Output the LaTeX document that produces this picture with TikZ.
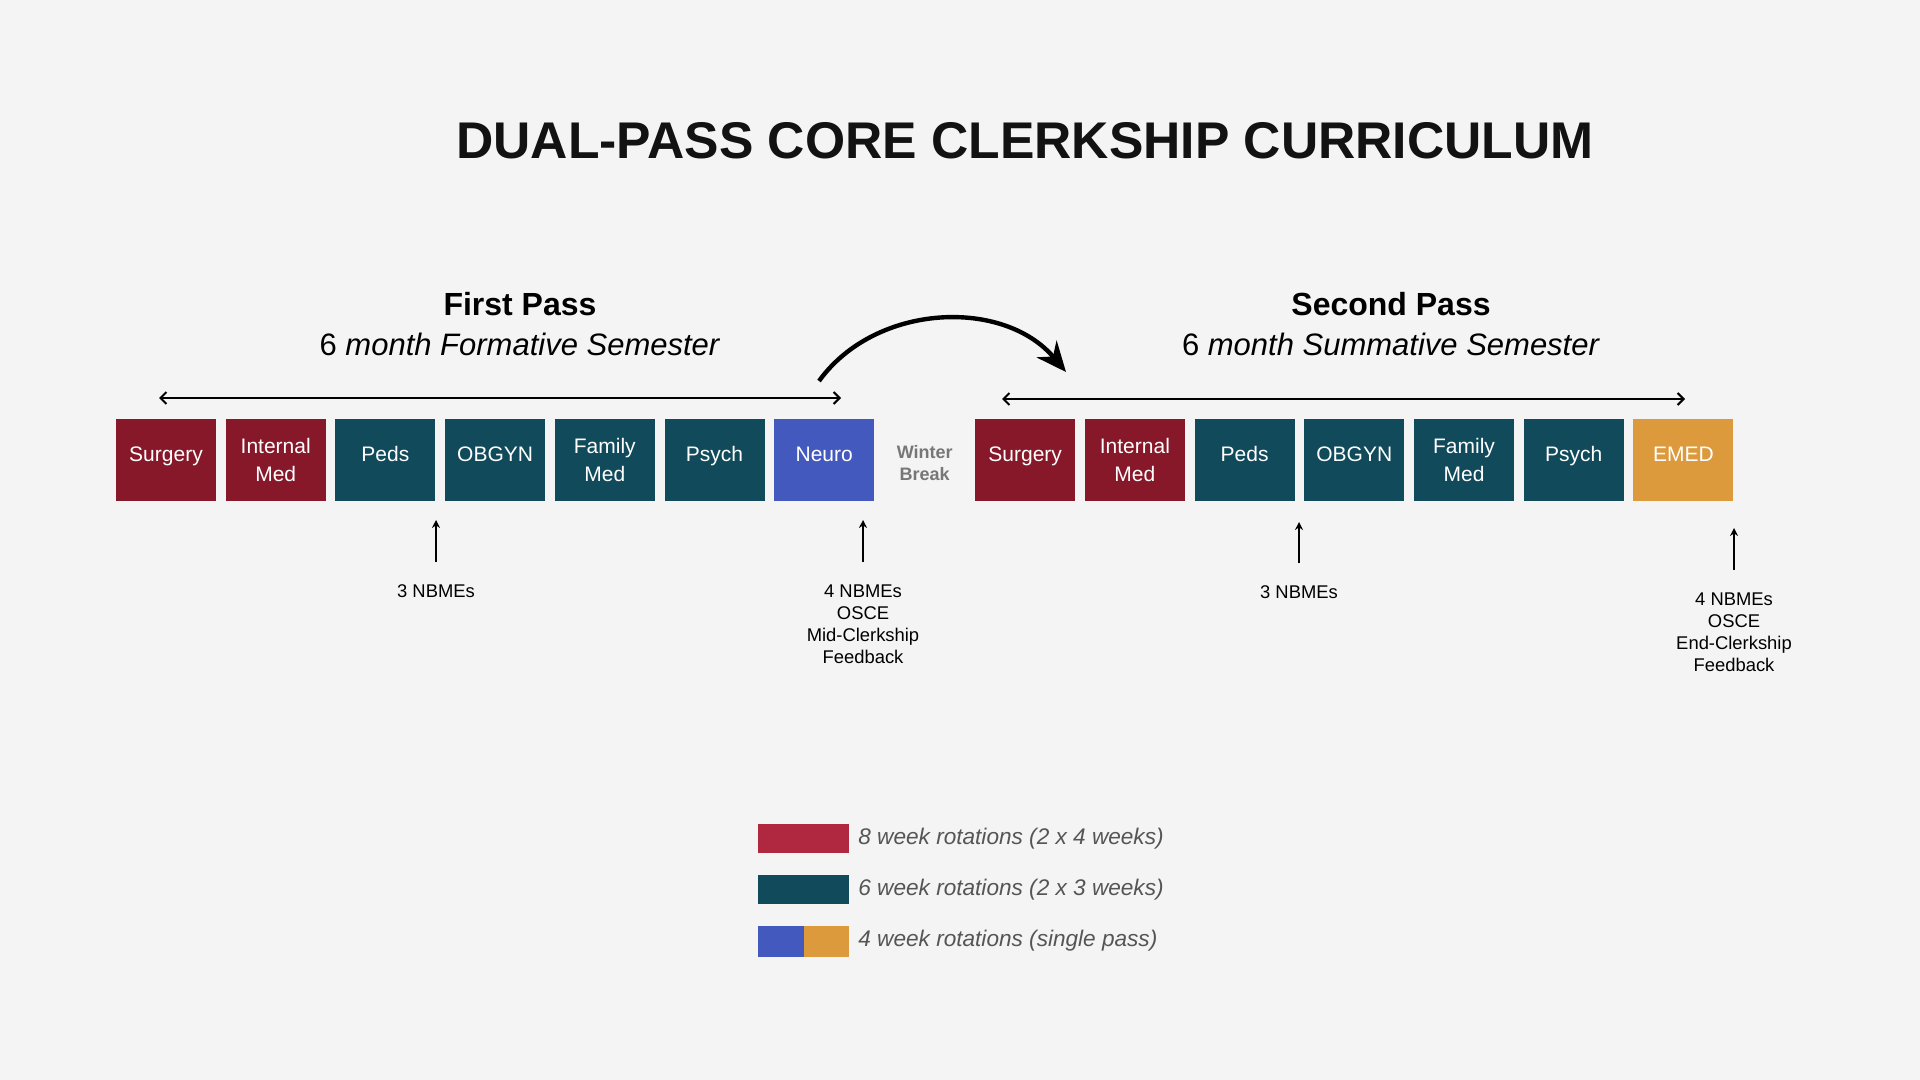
\documentclass[tikz,border=0pt]{standalone}
\usepackage{fontspec}
\setmainfont{Liberation Sans}
\usepackage{tikz}
\usetikzlibrary{arrows.meta, positioning}

\definecolor{rotred}{HTML}{86182A}
\definecolor{legred}{HTML}{B02840}
\definecolor{rotteal}{HTML}{114B5B}
\definecolor{neuroblue}{HTML}{4459BD}
\definecolor{emedorange}{HTML}{DD9A3C}
\definecolor{breakgray}{HTML}{777777}
\definecolor{keygray}{HTML}{555555}
\definecolor{paper}{HTML}{F4F4F4}

\begin{document}
\begin{tikzpicture}[x=0.5pt, y=-0.5pt,
	node distance=4.85pt,
	rot/.style={minimum width=50pt, minimum height=41pt, inner sep=0pt, outer sep=0pt, align=center, text=white, font=\fontsize{10.5pt}{14pt}\selectfont},
	one/.style={text height=8pt, text depth=7pt},
	eightwk/.style={rot, fill=rotred},
	sixwk/.style={rot, fill=rotteal},
	fourwk/.style={rot, fill=#1},
	brk/.style={minimum width=40.8pt, minimum height=41pt, inner sep=0pt, outer sep=0pt, align=center, text height=20.6pt, text=breakgray, font=\bfseries\fontsize{9pt}{11pt}\selectfont},
	note/.style={anchor=north, inner sep=2pt, align=center, font=\fontsize{9.2pt}{11pt}\selectfont},
	span/.style={{Straight Barb[length=3pt, width=6pt]}-{Straight Barb[length=3pt, width=6pt]}, line width=1pt},
	hop/.style={-{Stealth[length=15pt, width=13pt]}, line width=2.2pt},
	up/.style={-{Stealth[length=4pt, width=4pt]}, line width=0.9pt, shorten <=9pt},
	key/.style={minimum width=45.5pt, minimum height=14.5pt, inner sep=0pt, outer sep=0pt},
	keytext/.style={inner sep=0pt, anchor=west, text=keygray, font=\itshape\fontsize{11.3pt}{13pt}\selectfont}
	]
	\fill[paper] (0,0) rectangle (1920,1080);
	\useasboundingbox (0,0) rectangle (1920,1080);

	% headings
	\node[font=\bfseries\fontsize{25.8pt}{30pt}\selectfont, text=black!93] (title) at (1025,141) {DUAL-PASS CORE CLERKSHIP CURRICULUM};
	\node[font=\bfseries\fontsize{16pt}{19pt}\selectfont] (fp) at (520,304) {First Pass};
	\node[font=\fontsize{15.5pt}{19pt}\selectfont] (fpsem) at (520,344) {6 \textit{month Formative Semester}};
	\node[font=\bfseries\fontsize{16pt}{19pt}\selectfont] (sp) at (1391,304) {Second Pass};
	\node[font=\fontsize{15.5pt}{19pt}\selectfont] (spsem) at (1391,344) {6 \textit{month Summative Semester}};

	% rotations
	\node[eightwk, one] (surg1) at (166,460) {Surgery};
	\node[eightwk, right=of surg1] (im1) {Internal\\Med};
	\node[sixwk, one, right=of im1] (peds1) {Peds};
	\node[sixwk, one, right=of peds1] (ob1) {OBGYN};
	\node[sixwk, right=of ob1] (fm1) {Family\\Med};
	\node[sixwk, one, right=of fm1] (psy1) {Psych};
	\node[fourwk=neuroblue, one, right=of psy1] (neuro) {Neuro};
	\node[brk, right=of neuro] (winter) {Winter\\Break};
	\node[eightwk, one, right=of winter] (surg2) {Surgery};
	\node[eightwk, right=of surg2] (im2) {Internal\\Med};
	\node[sixwk, one, right=of im2] (peds2) {Peds};
	\node[sixwk, one, right=of peds2] (ob2) {OBGYN};
	\node[sixwk, right=of ob2] (fm2) {Family\\Med};
	\node[sixwk, one, right=of fm2] (psy2) {Psych};
	\node[fourwk=emedorange, one, right=of psy2] (emed) {EMED};

	% semester spans
	\coordinate (fpL) at (159,398);
	\coordinate (fpR) at (841,398);
	\coordinate (spL) at (1002,399);
	\coordinate (spR) at (1685,399);
	\draw[span] (fpL) -- (fpR);
	\draw[span] (spL) -- (spR);

	\coordinate (hopA) at (819,381);
	\coordinate (hopB) at (1066,372);
	\draw[hop] (hopA) to[bend left=52] (hopB);

	% assessments
	\node[note] (nb1) at (436,580) {3 NBMEs};
	\node[note] (nb2) at (863,580) {4 NBMEs\\OSCE\\Mid-Clerkship\\Feedback};
	\node[note] (nb3) at (1299,581) {3 NBMEs};
	\node[note] (nb4) at (1734,588) {4 NBMEs\\OSCE\\End-Clerkship\\Feedback};
	\coordinate (t1) at (436,520);
	\coordinate (t2) at (863,520);
	\coordinate (t3) at (1299,522);
	\coordinate (t4) at (1734,528);
	\draw[up] (nb1.north) -- (t1);
	\draw[up] (nb2.north) -- (t2);
	\draw[up] (nb3.north) -- (t3);
	\draw[up] (nb4.north) -- (t4);

	% legend
	\node[key, fill=legred] (k8) at (803.5,838.5) {};
	\node[key, fill=rotteal] (k6) at (803.5,889.5) {};
	\node[key, minimum width=22.75pt, minimum height=15.5pt, fill=neuroblue] (k4a) at (780.75,941) {};
	\node[key, minimum width=22.75pt, minimum height=15.5pt, fill=emedorange, right=0pt of k4a] (k4b) {};
	\node[keytext, right=4.5pt of k8] (k8t) {8 week rotations (2 x 4 weeks)};
	\node[keytext, right=4.5pt of k6] (k6t) {6 week rotations (2 x 3 weeks)};
	\node[keytext, right=4.5pt of k4b] (k4t) {4 week rotations (single pass)};
\end{tikzpicture}
\end{document}
